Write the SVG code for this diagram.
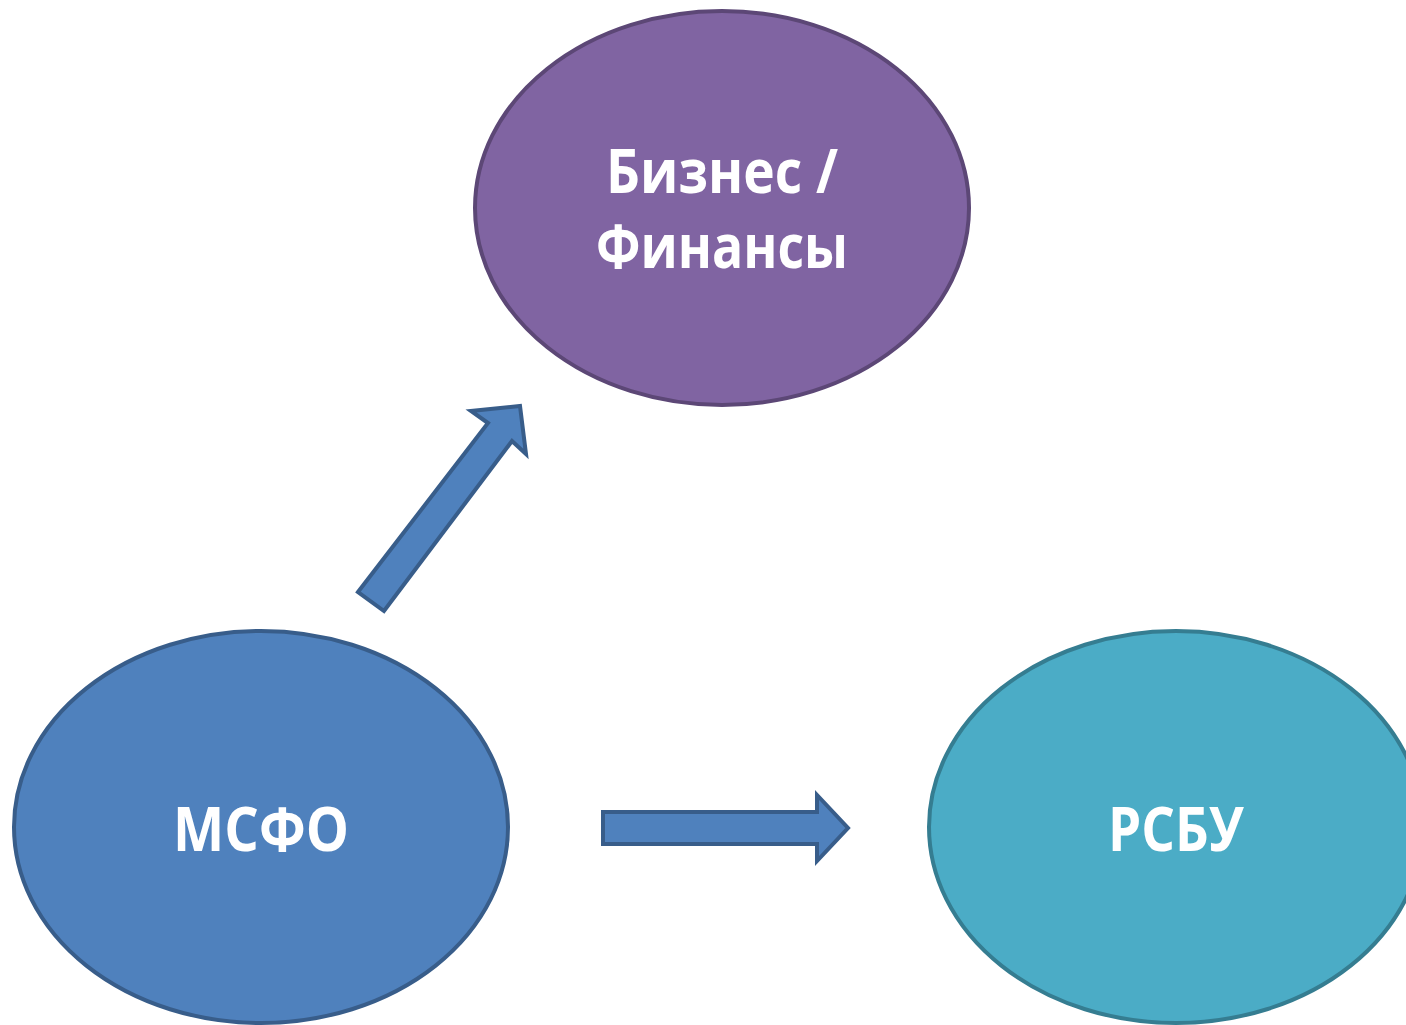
<svg xmlns="http://www.w3.org/2000/svg" width="1406" height="1025" viewBox="0 0 1406 1025">
<style>
.lbl{font-family:"Open Sans","Noto Sans","DejaVu Sans",sans-serif;font-weight:bold;font-size:60px;fill:#fff;text-anchor:middle}
.arr{fill:#4F81BD;stroke:#385D8A;stroke-width:4;stroke-linejoin:miter}
</style>
<rect width="1406" height="1025" fill="#fff"/>
<g id="node-biz">
<ellipse cx="722" cy="208" rx="247" ry="197" fill="#8064A2" stroke="#5C4776" stroke-width="4"/>
<text class="lbl" x="722" y="193" textLength="232" lengthAdjust="spacingAndGlyphs">Бизнес /</text>
<text class="lbl" x="722" y="268" textLength="252" lengthAdjust="spacingAndGlyphs">Финансы</text>
</g>
<g id="node-msfo">
<ellipse cx="261" cy="827" rx="247" ry="196" fill="#4F81BD" stroke="#385D8A" stroke-width="4"/>
<text class="lbl" x="261" y="851" textLength="176" lengthAdjust="spacingAndGlyphs">МСФО</text>
</g>
<g id="node-rsbu">
<ellipse cx="1176" cy="827" rx="247" ry="196" fill="#4BACC6" stroke="#357D91" stroke-width="4"/>
<text class="lbl" x="1176" y="851" textLength="136" lengthAdjust="spacingAndGlyphs">РСБУ</text>
</g>
<g id="connectors">
<polygon class="arr" points="358,592 488,423 471,411 520,406 526,454 512,441 384,611"/>
<polygon class="arr" points="603,812 817,812 817,795 848,828 817,861 817,844 603,844"/>
</g>
</svg>
